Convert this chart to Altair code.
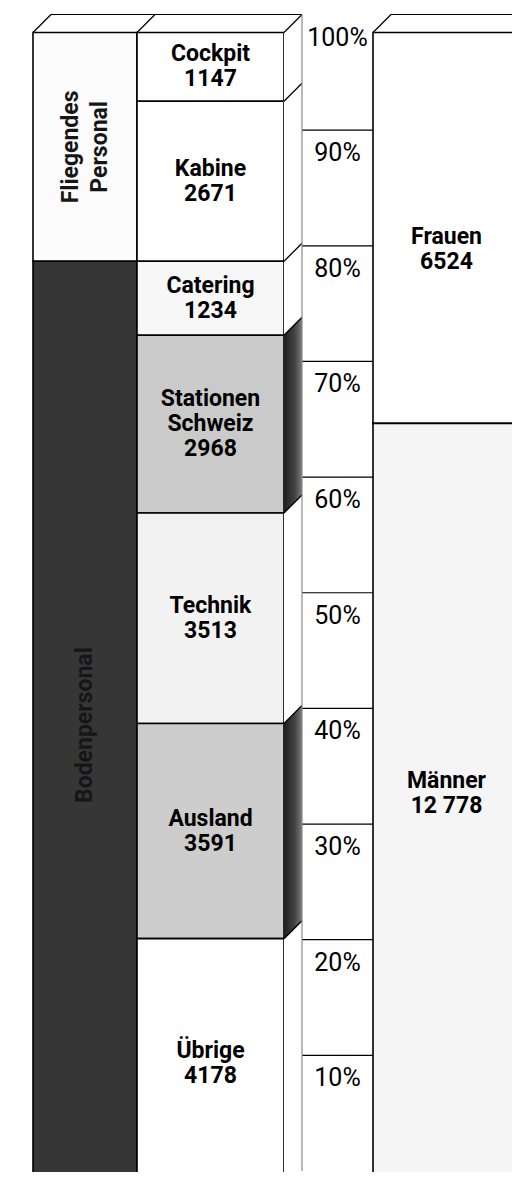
import altair as alt
import pandas as pd

# ---------------- data ----------------
B_NAMES = ["Cockpit", "Kabine", "Catering", "Stationen\nSchweiz", "Technik", "Ausland", "Übrige"]
B_VALUES = [1147, 2671, 1234, 2968, 3513, 3591, 4178]
B_GROUP = ["Fliegendes\nPersonal", "Fliegendes\nPersonal",
           "Bodenpersonal", "Bodenpersonal", "Bodenpersonal", "Bodenpersonal", "Bodenpersonal"]
B_HIGHLIGHT = ["Stationen\nSchweiz", "Ausland"]
C_NAMES = ["Frauen", "Männer"]
C_VALUES = [6524, 12778]
PCT_TICKS = [10, 20, 30, 40, 50, 60, 70, 80, 90, 100]
PCT_LABELS = ["10%", "20%", "30%", "40%", "50%", "60%", "70%", "80%", "90%", "100%"]

# ---------------- layout / style ----------------
PLOT_W, PLOT_H = 504, 1164
X_SCALE = alt.Scale(domain=[8, 8 + PLOT_W], range=[0, PLOT_W])
Y_RANGE = [1181, 24.5]
Y_SCALE = alt.Scale(domain=[0, 100], range=Y_RANGE)
DEPTH = 18
D_PCT = DEPTH * 100 / (Y_RANGE[0] - Y_RANGE[1])
COL_A = (33, 137)
COL_B = (137, 284)
COL_P = (302, 373)
COL_C = (373, 520)
FONT = "Roboto, Lato, sans-serif"
LH = 25
LH_A = 29
LABEL_SHIFT = {"Frauen": 22, "Männer": -13}   # pixel nudges of the label blocks
FILLS = {
    "Cockpit": "#ffffff", "Kabine": "#ffffff", "Catering": "#f7f7f7",
    "Stationen\nSchweiz": "#cacaca", "Technik": "#f2f2f2", "Ausland": "#cdcdcd",
    "Übrige": "#ffffff", "Fliegendes\nPersonal": "#fbfbfb", "Bodenpersonal": "#363636",
    "Frauen": "#ffffff", "Männer": "#f5f5f5",
}


def fmt(v):
    return f"{v:,}".replace(",", " ") if v >= 10000 else str(v)


def stack(names, values, col):
    total = sum(values)
    rows, acc = [], 0
    for n, v in zip(names, values):
        top = 100 - acc / total * 100
        acc += v
        bot = 100 - acc / total * 100
        label = n + "\n" + fmt(v)
        rows.append(dict(name=n, value=v, label=label, top=top, bot=bot,
                         nlab=label.count("\n") + 1, nname=n.count("\n") + 1,
                         mid=(top + bot) / 2, x0=col[0], x1=col[1], xm=(col[0] + col[1]) / 2))
    return rows


a_names, a_values = [], []
for g, v in zip(B_GROUP, B_VALUES):
    if g not in a_names:
        a_names.append(g)
        a_values.append(0)
    a_values[a_names.index(g)] += v

a_rows = stack(a_names, a_values, COL_A)
b_rows = stack(B_NAMES, B_VALUES, COL_B)
c_rows = stack(C_NAMES, C_VALUES, COL_C)
fronts = pd.DataFrame(a_rows + b_rows + c_rows)

COLOR = alt.Scale(domain=list(FILLS.keys()), range=list(FILLS.values()))

X = lambda f: alt.X(f, scale=X_SCALE, axis=None)
Y = lambda f: alt.Y(f, scale=Y_SCALE, axis=None, stack=None)

front_layer = alt.Chart(fronts).mark_rect(stroke="black", strokeWidth=1.6).encode(
    x=X("x0:Q"), x2="x1:Q", y=Y("top:Q"), y2="bot:Q",
    color=alt.Color("name:N", scale=COLOR, legend=None),
)

# side face of column B (parallelograms)
side_rows = []
for r in b_rows:
    for xx, shift in [(COL_B[1], 0), (COL_B[1] + DEPTH, D_PCT)]:
        side_rows.append(dict(name=r["name"], x=xx, hi=r["top"] + shift, lo=r["bot"] + shift,
                              hl=r["name"] in B_HIGHLIGHT))
side = pd.DataFrame(side_rows)
side_plain = alt.Chart(side[~side.hl]).mark_area(color="white").encode(
    x=X("x:Q"), y=Y("hi:Q"), y2="lo:Q", detail="name:N")
side_dark = alt.Chart(side[side.hl]).mark_area(
    color=alt.Gradient(gradient="linear", x1=0, x2=1, y1=0, y2=0,
                       stops=[alt.GradientStop(color="#1e1e1e", offset=0),
                              alt.GradientStop(color="#444444", offset=0.6),
                              alt.GradientStop(color="#7a7a7a", offset=1)])
).encode(x=X("x:Q"), y=Y("hi:Q"), y2="lo:Q", detail="name:N")

# diagonal depth edges
diag_rows = [dict(x=COL_B[1], p=r["top"]) for r in b_rows]
diag_rows += [dict(x=COL_A[0], p=100), dict(x=COL_A[1], p=100), dict(x=COL_C[0], p=100)]
diag = pd.DataFrame(diag_rows)
diag["x2"] = diag.x + DEPTH
diag["p2"] = diag.p + D_PCT
diag_layer = alt.Chart(diag).mark_rule(color="black", strokeWidth=1.3).encode(
    x=X("x:Q"), x2="x2:Q", y=Y("p:Q"), y2="p2:Q")

# back-plane lines
back_rows = [dict(x=COL_A[0] + DEPTH, x2=COL_B[1] + DEPTH, p=100 + D_PCT),
             dict(x=COL_C[0] + DEPTH, x2=COL_C[1] + DEPTH, p=100 + D_PCT)]
back_rows += [dict(x=COL_P[0], x2=COL_P[1], p=t + D_PCT) for t in PCT_TICKS if t < 100]
back = pd.DataFrame(back_rows)
back_layer = alt.Chart(back).mark_rule(color="black", strokeWidth=1.2).encode(
    x=X("x:Q"), x2="x2:Q", y=Y("p:Q"))

vert = pd.DataFrame([dict(x=COL_P[0], p=100 + D_PCT, p2=0 + D_PCT)])
vert_layer = alt.Chart(vert).mark_rule(color="#8a8a8a", strokeWidth=1.2).encode(
    x=X("x:Q"), y=Y("p:Q"), y2="p2:Q")

# percent labels
pct = pd.DataFrame(dict(p=[t + D_PCT for t in PCT_TICKS], lab=PCT_LABELS,
                        x=[(COL_P[0] + COL_P[1]) / 2] * len(PCT_TICKS)))
pct_layer = alt.Chart(pct).mark_text(font=FONT, fontSize=25, align="center",
                                     baseline="alphabetic", dy=31, color="black").encode(
    x=X("x:Q"), y=Y("p:Q"), text="lab:N")

# segment labels (grouped by line count and nudge so that each block is placed right)
lab_bc = pd.DataFrame(b_rows + c_rows)
lab_bc["shift"] = lab_bc.name.map(LABEL_SHIFT).fillna(0)
lab_layers = []
for (n, s), grp in lab_bc.groupby(["nlab", "shift"]):
    lab_layers.append(
        alt.Chart(grp).mark_text(
            font=FONT, fontSize=23, fontWeight="bold", align="center", baseline="middle",
            lineBreak="\n", lineHeight=LH, dy=-(int(n) - 1) * LH / 2 + float(s), color="black",
        ).encode(x=X("xm:Q"), y=Y("mid:Q"), text="label:N")
    )

lab_a = pd.DataFrame(a_rows)
for n in sorted(lab_a.nname.unique()):
    lab_layers.append(
        alt.Chart(lab_a[lab_a.nname == n]).mark_text(
            font=FONT, fontSize=23, fontWeight="bold", align="center", baseline="middle",
            lineBreak="\n", lineHeight=LH_A, angle=270, dy=-(int(n) - 1) * LH_A / 2,
            color="#161616",
        ).encode(x=X("xm:Q"), y=Y("mid:Q"), text="name:N")
    )

chart = alt.layer(
    front_layer, side_plain, side_dark, diag_layer, back_layer, vert_layer,
    pct_layer, *lab_layers,
).properties(
    width=PLOT_W, height=PLOT_H, padding=0, autosize=alt.AutoSizeParams(type="none"),
    background="white",
).configure_view(stroke=None)

chart.save("out.html", embed_options={"renderer": "svg", "actions": False})
